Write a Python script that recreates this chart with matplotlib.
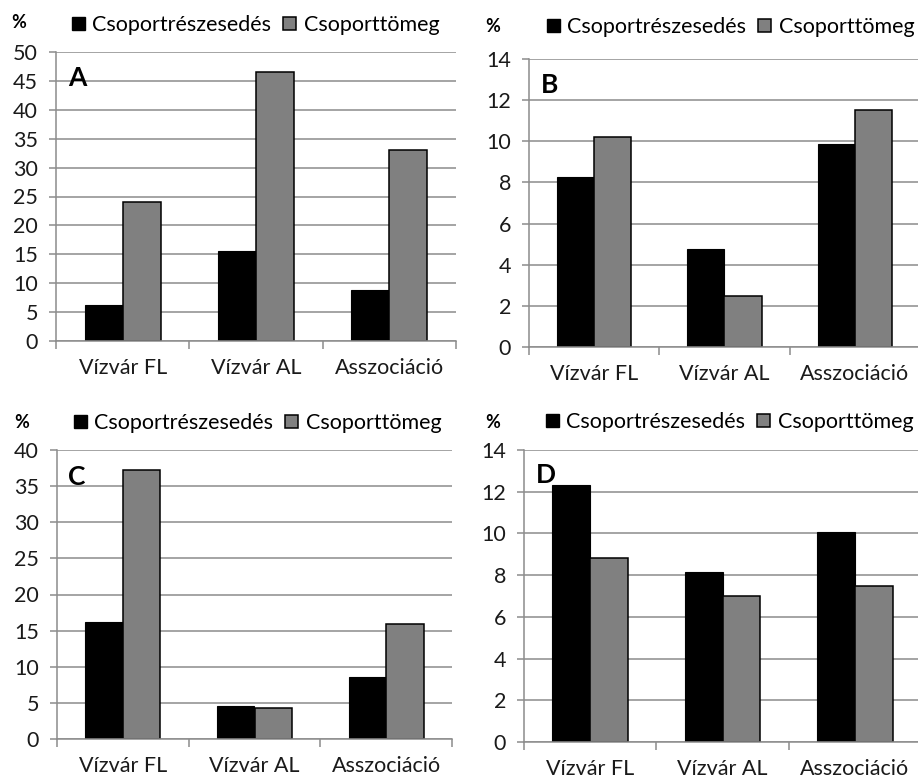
import matplotlib
matplotlib.use("Agg")
import matplotlib.pyplot as plt
from matplotlib.patches import Patch
import numpy as np

plt.rcParams['font.family'] = ['Lato', 'DejaVu Sans']

categories = ["Vízvár FL", "Vízvár AL", "Asszociáció"]
series_names = ["Csoportrészesedés", "Csoporttömeg"]

A_share = [6.3, 15.5, 8.9]
A_mass = [24.0, 46.5, 33.0]
B_share = [8.25, 4.75, 9.85]
B_mass = [10.2, 2.5, 11.5]
C_share = [16.2, 4.5, 8.6]
C_mass = [37.3, 4.3, 15.9]
D_share = [12.3, 8.15, 10.05]
D_mass = [8.8, 7.0, 7.5]

A_ticks = [0, 5, 10, 15, 20, 25, 30, 35, 40, 45, 50]
B_ticks = [0, 2, 4, 6, 8, 10, 12, 14]
C_ticks = [0, 5, 10, 15, 20, 25, 30, 35, 40]
D_ticks = [0, 2, 4, 6, 8, 10, 12, 14]

W, H = 918, 780
fig = plt.figure(figsize=(W / 100, H / 100), dpi=100)
fig.patch.set_facecolor('white')

def fx(px):
    return px / W

def fy(py):
    return 1 - py / H

GRID = '#8c8c8c'
GRAY = '#808080'
FS = 15.5

panels = [
    ("A", A_share, A_mass, A_ticks, 56, 456, 52, 341, (72, 25), (11, 22), (68, 78)),
    ("B", B_share, B_mass, B_ticks, 529, 920, 59, 347, (547, 27), (485, 26), (541, 85)),
    ("C", C_share, C_mass, C_ticks, 57, 452, 450, 739, (74, 423), (14, 422), (68, 477)),
    ("D", D_share, D_mass, D_ticks, 524, 921, 450, 742, (546, 422), (485, 422), (536, 475)),
]

bw = 0.285
for (letter, share, mass, ticks, l, r, t, b, leg, pct, let) in panels:
    ax = fig.add_axes([fx(l), fy(b), fx(r) - fx(l), fy(t) - fy(b)])
    x = np.arange(len(categories))
    ax.bar(x - bw / 2, share, width=bw, color='black', edgecolor='black', linewidth=0.8, zorder=3)
    ax.bar(x + bw / 2, mass, width=bw, color=GRAY, edgecolor='black', linewidth=1.1, zorder=3)
    ax.set_xlim(-0.5, len(categories) - 0.5)
    ax.set_ylim(ticks[0], ticks[-1])
    ax.set_yticks(ticks)
    ax.set_yticklabels([str(v) for v in ticks], fontsize=FS, color='#1a1a1a')
    ax.set_xticks(x)
    ax.set_xticklabels(categories, fontsize=FS, color='#1a1a1a')
    ax.set_xticks(np.arange(len(categories) + 1) - 0.5, minor=True)
    ax.tick_params(axis='x', which='major', length=0, pad=12)
    ax.tick_params(axis='x', which='minor', length=6, width=1.1, color=GRID, direction='out')
    ax.tick_params(axis='y', which='major', length=5, width=1.1, color=GRID, pad=8)
    ax.yaxis.grid(True, color=GRID, linewidth=1.1, zorder=0)
    ax.set_axisbelow(True)
    for s in ['top', 'right']:
        ax.spines[s].set_visible(False)
    for s in ['left', 'bottom']:
        ax.spines[s].set_color(GRID)
        ax.spines[s].set_linewidth(1.1)
    ax.spines['bottom'].set_zorder(4)
    ax.set_facecolor('white')

    handles = [Patch(facecolor='black', edgecolor='black', label=series_names[0]),
               Patch(facecolor=GRAY, edgecolor='black', linewidth=1.1, label=series_names[1])]
    fig.legend(handles=handles, loc='center left', bbox_to_anchor=(fx(leg[0]), fy(leg[1])),
               ncol=2, frameon=False, fontsize=FS, handlelength=0.6, handleheight=0.6,
               handletextpad=0.35, columnspacing=0.55, borderpad=0, borderaxespad=0)
    fig.text(fx(pct[0]), fy(pct[1]), "%", fontsize=13, fontweight='bold', ha='left', va='center')
    fig.text(fx(let[0]), fy(let[1]), letter, fontsize=19, fontweight='bold', ha='left', va='center')

fig.savefig("out.png", dpi=100, facecolor='white')
